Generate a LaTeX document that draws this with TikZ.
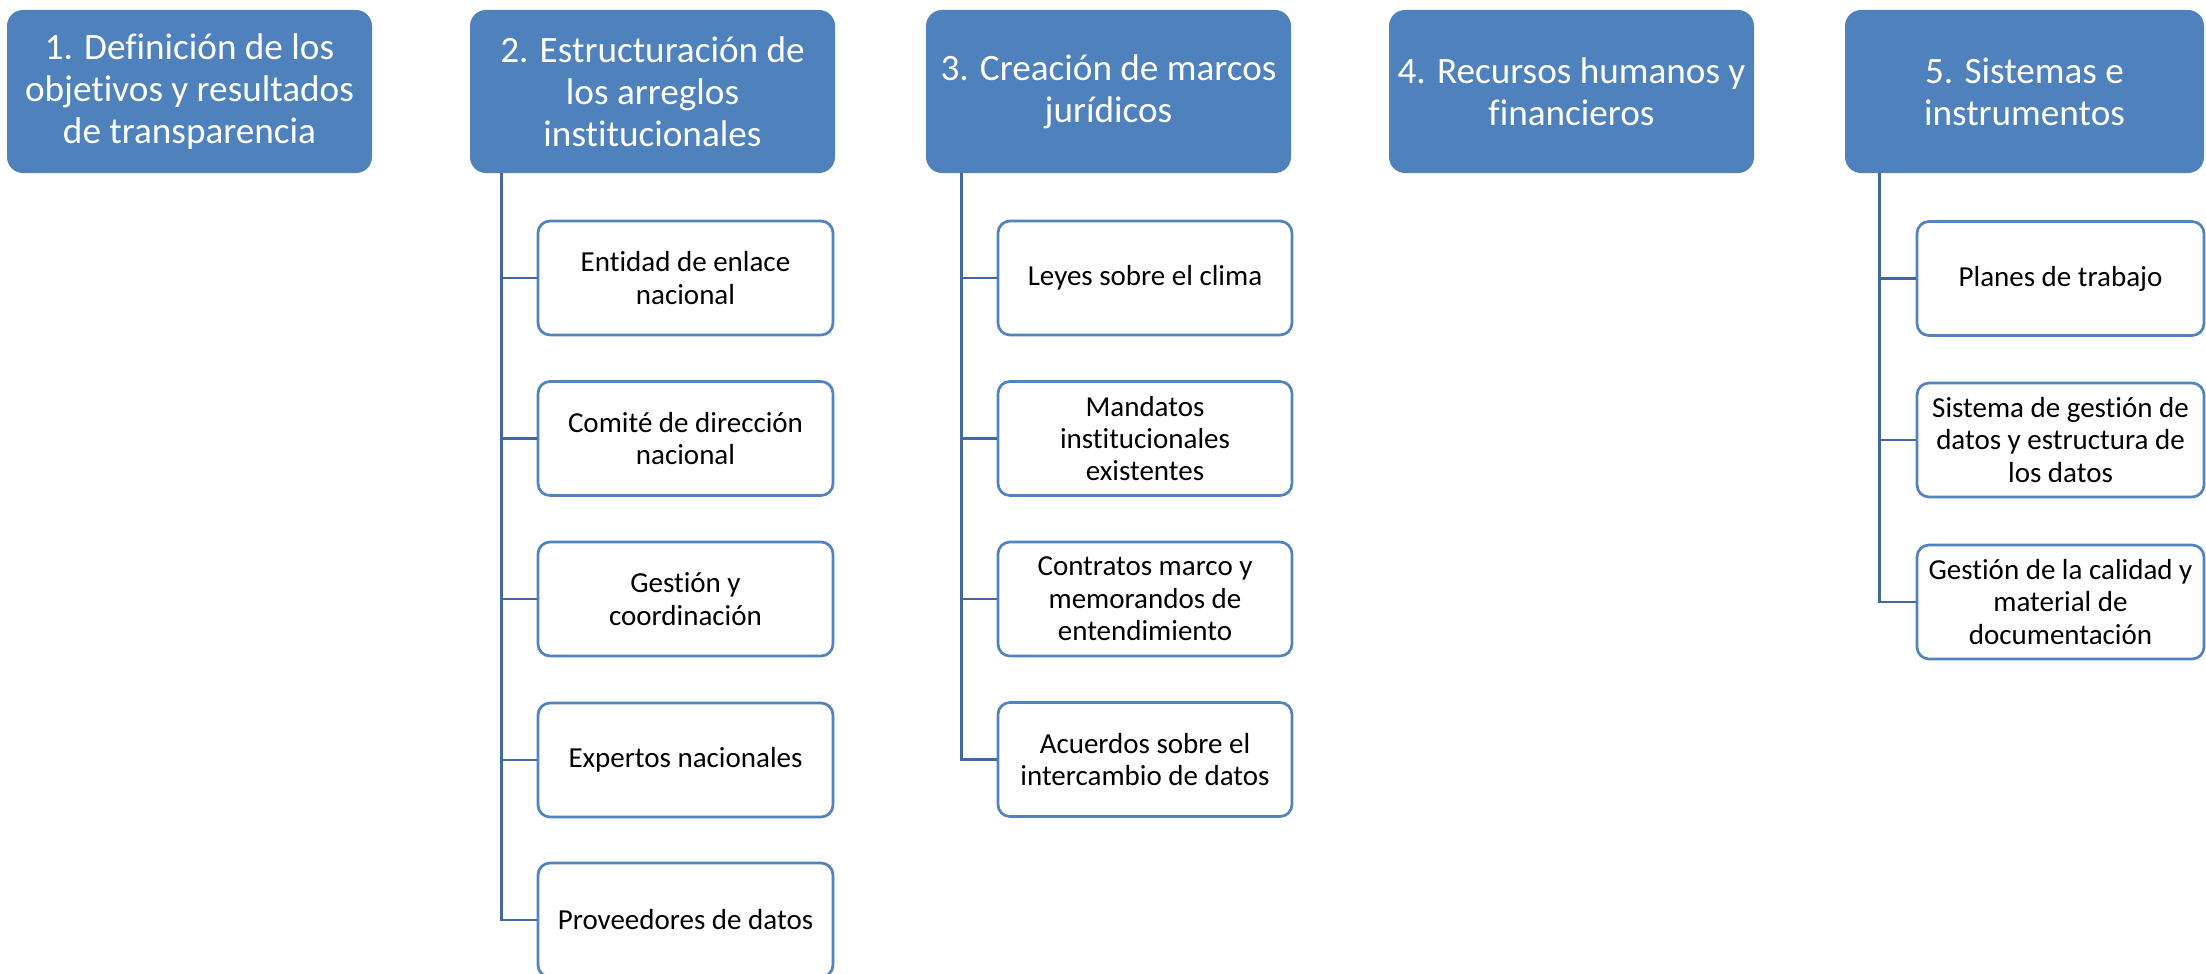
\documentclass[tikz,border=0pt]{standalone}
\usepackage{fontspec}
\setmainfont{Carlito}[Ligatures=NoCommon]
\definecolor{hdrblue}{HTML}{4F81BD}
\definecolor{bordblue}{HTML}{5383BE}
\definecolor{lineblue}{HTML}{41689F}
\tikzset{
  hdr/.style={fill=hdrblue, draw=none, rounded corners=8pt, text=white, align=center,
    minimum height=81.5pt, inner sep=0pt, font=\fontsize{18.6pt}{21pt}\selectfont},
  child/.style={fill=white, draw=bordblue, line width=1.35pt, rounded corners=6pt, align=center,
    minimum height=57pt, inner sep=0pt, font=\fontsize{14.5pt}{16.2pt}\selectfont},
  conn/.style={draw=lineblue, line width=1.4pt}
}
\begin{document}
\begin{tikzpicture}[x=0.5pt,y=-0.5pt]
\useasboundingbox (0,0) rectangle (2206,974);
% headers
\node[hdr, minimum width=182.5pt] (h1) at (189.5,91.5) {1. Definición de los\\objetivos y resultados\\de transparencia};
\node[hdr, minimum width=182.5pt] (h2) at (652.5,91.5) {2. Estructuración de\\los arreglos\\institucionales};
\node[hdr, minimum width=182.5pt] (h3) at (1108.5,91.5) {3. Creación de marcos\\jurídicos};
\node[hdr, minimum width=182.5pt] (h4) at (1571.5,91.5) {4. Recursos humanos y\\financieros};
\node[hdr, minimum width=179.5pt] (h5) at (2024.5,91.5) {5. Sistemas e\\instrumentos};
% column 2 children
\node[child, minimum width=147.5pt] (c21) at (685.5,278) {Entidad de enlace\\nacional};
\node[child, minimum width=147.5pt] (c22) at (685.5,438.5) {Comité de dirección\\nacional};
\node[child, minimum width=147.5pt] (c23) at (685.5,599) {Gestión y\\coordinación};
\node[child, minimum width=147.5pt] (c24) at (685.5,760) {Expertos nacionales};
\node[child, minimum width=147.5pt] (c25) at (685.5,920) {Proveedores de datos};
% column 3 children
\node[child, minimum width=147pt] (c31) at (1145,278) {Leyes sobre el clima};
\node[child, minimum width=147pt] (c32) at (1145,438.5) {Mandatos\\institucionales\\existentes};
\node[child, minimum width=147pt] (c33) at (1145,599) {Contratos marco y\\memorandos de\\entendimiento};
\node[child, minimum width=147pt] (c34) at (1145,759.5) {Acuerdos sobre el\\intercambio de datos};
% column 5 children
\node[child, minimum width=143.5pt] (c51) at (2060.5,278.5) {Planes de trabajo};
\node[child, minimum width=143.5pt] (c52) at (2060.5,440) {Sistema de gestión de\\datos y estructura de\\los datos};
\node[child, minimum width=143.5pt] (c53) at (2060.5,602) {Gestión de la calidad y\\material de\\documentación};
% connectors
\foreach \c in {c21,c22,c23,c24,c25}
  \draw[conn] ([xshift=16pt]h2.south west) |- (\c.west);
\foreach \c in {c31,c32,c33,c34}
  \draw[conn] ([xshift=18pt]h3.south west) |- (\c.west);
\foreach \c in {c51,c52,c53}
  \draw[conn] ([xshift=17.5pt]h5.south west) |- (\c.west);
\end{tikzpicture}
\end{document}
